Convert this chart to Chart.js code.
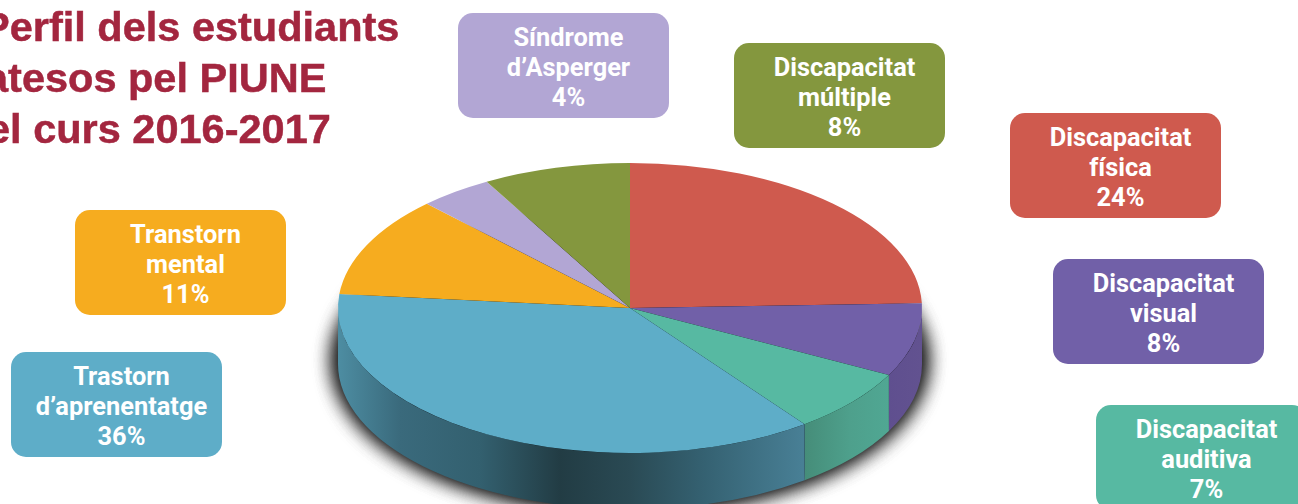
<!DOCTYPE html>
<html lang="ca">
<head>
<meta charset="utf-8">
<title>Perfil dels estudiants atesos pel PIUNE</title>
<script src="https://cdn.jsdelivr.net/npm/chart.js@4"></script>
<style>
    html, body { margin: 0; background: #fff; }
    #page { position: relative; width: 1298px; height: 504px; overflow: hidden; }
    #pie { position: absolute; left: 0; top: 0; }
    .title {
        position: absolute; white-space: nowrap; color: #a3263f;
        font: bold 41.5px/51px "Liberation Sans", sans-serif;
        -webkit-text-stroke: 0.5px #a3263f;
    }
    .box {
        position: absolute; width: 211px; height: 105px; border-radius: 15px; box-sizing: border-box;
        padding: 9px 0 0 10px; text-align: center; color: #fff;
        font: bold 25.4px/30px Roboto, sans-serif; white-space: pre-line;
    }
</style>
</head>
<body>
<div id="page">
    <canvas id="pie" width="1298" height="504"></canvas>
</div>
<script>
    'use strict';

    const categories = [
        'Discapacitat\nfísica',
        'Discapacitat\nvisual',
        'Discapacitat\nauditiva',
        'Trastorn\nd’aprenentatge',
        'Transtorn\nmental',
        'Síndrome\nd’Asperger',
        'Discapacitat\nmúltiple'
    ];
    const percentages = [24, 8, 7, 36, 11, 4, 8];
    const titleLines = ['Perfil dels estudiants', 'atesos pel PIUNE', 'el curs 2016-2017'];

    const sliceColors = ['#cf5a4e', '#7160a8', '#57b9a2', '#5eadc8', '#f6ac1f', '#b2a6d4', '#84973e'];
    // top-left corner of the label box of each slice
    const boxCorners = [[1010, 113], [1053, 259], [1096, 405], [11, 352], [75, 210], [458, 13], [734, 43]];
    const titleLefts = [-18, -15, -13];
    // colour stops of the rim, only the slices that face the viewer have one
    const rimStops = {
        1: [[888, '#5f4f8f'], [922, '#625290']],
        2: [[802, '#458c78'], [850, '#4ea08c'], [888, '#50a793']],
        3: [[338, '#4d8da2'], [400, '#3a6a7c'], [480, '#33606f'], [560, '#223c44'],
            [630, '#2a4a54'], [700, '#346070'], [802, '#487f95']]
    };

    const pieX = 630, pieY = 308, pieRx = 292, pieRy = 145, rimDepth = 56;

    const page = document.getElementById('page');
    titleLines.forEach((line, i) => {
        const el = document.createElement('div');
        el.className = 'title';
        el.textContent = line;
        el.style.left = titleLefts[i] + 'px';
        el.style.top = (1 + i * 51) + 'px';
        page.appendChild(el);
    });
    categories.forEach((name, i) => {
        const el = document.createElement('div');
        el.className = 'box';
        el.textContent = name + '\n' + percentages[i] + '%';
        el.style.left = boxCorners[i][0] + 'px';
        el.style.top = boxCorners[i][1] + 'px';
        el.style.background = sliceColors[i];
        page.appendChild(el);
    });

    // squashes the library's round pie into an ellipse and puts a rim under it
    const tiltPlugin = {
        id: 'tilt',
        beforeDatasetsDraw(chart) {
            const ctx = chart.ctx;
            const arcs = chart.getDatasetMeta(0).data;

            // only the shadow lands on the page, the shape itself stays off it
            ctx.save();
            ctx.shadowColor = 'rgba(0,0,0,0.8)';
            ctx.shadowBlur = 22;
            ctx.shadowOffsetX = 3000;
            ctx.fillStyle = '#000';
            for (let pass = 0; pass < 3; pass++) {
                ctx.beginPath();
                ctx.ellipse(pieX - 3000, pieY + rimDepth - 4, pieRx + 1, pieRy + 3, 0, 0, Math.PI * 2);
                ctx.fill();
            }
            ctx.restore();

            arcs.forEach((arc, i) => {
                const from = Math.max(arc.startAngle, 0);
                const to = Math.min(arc.endAngle, Math.PI);
                if (to <= from) return;
                const grad = ctx.createLinearGradient(pieX - pieRx, 0, pieX + pieRx, 0);
                rimStops[i].forEach(([x, color]) => {
                    grad.addColorStop((x - pieX + pieRx) / (2 * pieRx), color);
                });
                ctx.fillStyle = grad;
                ctx.beginPath();
                ctx.ellipse(pieX, pieY, pieRx, pieRy, 0, from, to);
                ctx.ellipse(pieX, pieY + rimDepth, pieRx, pieRy, 0, to, from, true);
                ctx.closePath();
                ctx.fill();
            });

            const first = arcs[0];
            ctx.save();
            ctx.translate(pieX, pieY);
            ctx.scale(pieRx / first.outerRadius, pieRy / first.outerRadius);
            ctx.translate(-first.x, -first.y);
        },
        afterDatasetsDraw(chart) {
            chart.ctx.restore();
        }
    };

    new Chart(document.getElementById('pie').getContext('2d'), {
        type: 'pie',
        data: {
            labels: categories,
            datasets: [{
                data: percentages,
                backgroundColor: sliceColors,
                borderWidth: 0
            }]
        },
        options: {
            responsive: false,
            animation: false,
            events: [],
            plugins: { legend: { display: false }, tooltip: { enabled: false } }
        },
        plugins: [tiltPlugin]
    });
</script>
</body>
</html>
